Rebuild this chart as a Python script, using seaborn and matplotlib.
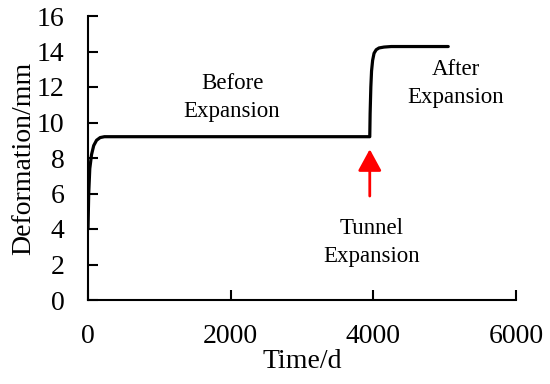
import numpy as np
import pandas as pd
import matplotlib
matplotlib.use("Agg")
import matplotlib.pyplot as plt
import seaborn as sns

# deformation curve
time_d = [0, 10, 25, 50, 80, 120, 170, 230, 300, 1000, 2000, 3000, 3900, 3950,
          3955, 3965, 3975, 3990, 4010, 4040, 4080, 4150, 4250, 4500, 5050]
deform_mm = [4.0, 6.0, 7.4, 8.2, 8.7, 9.0, 9.15, 9.2, 9.2, 9.2, 9.2, 9.2, 9.2, 9.2,
             10.5, 12.0, 12.9, 13.5, 13.9, 14.1, 14.2, 14.25, 14.28, 14.28, 14.28]

x_ticks = [0, 2000, 4000, 6000]
y_ticks = list(range(0, 17, 2))

df = pd.DataFrame({"time": time_d, "deform": deform_mm})

sns.set_theme(style="ticks", rc={"text.color": "black", "axes.labelcolor": "black",
                                 "xtick.color": "black", "ytick.color": "black",
                                 "axes.edgecolor": "black"})
plt.rcParams["font.family"] = ["Liberation Serif", "DejaVu Serif"]

fig = plt.figure(figsize=(5.5, 3.84), dpi=100)
ax = fig.add_axes([88 / 550, 1 - 300 / 384, 428 / 550, 284 / 384])

sns.lineplot(data=df, x="time", y="deform", ax=ax, color="black", linewidth=2.3)

ax.set_xlim(0, 6000)
ax.set_ylim(0, 16)
ax.set_xticks(x_ticks)
ax.set_yticks(y_ticks)
ax.tick_params(direction="in", length=7, width=1.5, labelsize=20, colors="black")
ax.tick_params(axis="x", pad=17)
ax.tick_params(axis="y", pad=17)
for s in ["top", "right"]:
    ax.spines[s].set_visible(False)
for s in ["left", "bottom"]:
    ax.spines[s].set_linewidth(1.5)

ax.set_xlabel("Time/d", fontsize=20, labelpad=0)
ax.set_ylabel("Deformation/mm", fontsize=20, labelpad=0)

ax.text(2020, 11.4, "Before\nExpansion", ha="center", va="center", fontsize=16.5,
        linespacing=1.45)
ax.text(5160, 12.2, "After\nExpansion", ha="center", va="center", fontsize=16.5,
        linespacing=1.45)
ax.text(3970, 3.25, "Tunnel\nExpansion", ha="center", va="center", fontsize=16.5,
        linespacing=1.45)
ax.annotate("", xy=(3950, 8.65), xytext=(3950, 5.7),
            arrowprops=dict(arrowstyle="-|>,head_length=1.1,head_width=0.6",
                            color="red", lw=2))

fig.savefig("out.png", dpi=100)
